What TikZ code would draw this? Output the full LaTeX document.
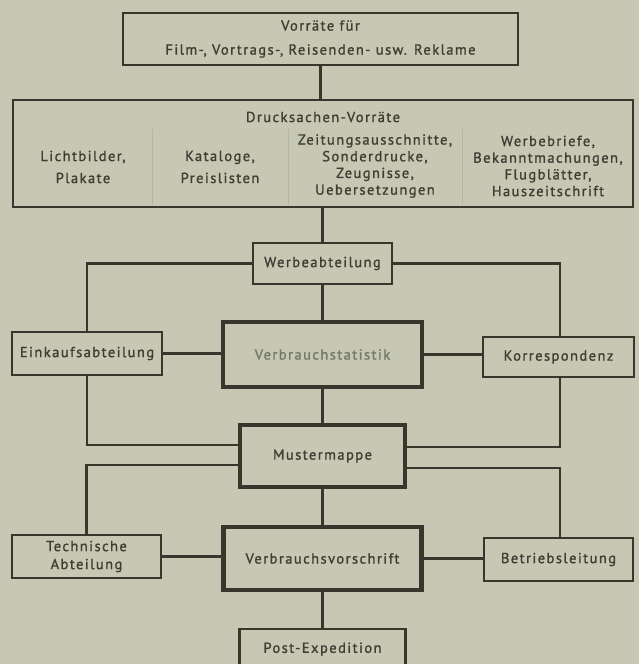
\documentclass[tikz,border=0pt]{standalone}
\usepackage{fontspec}
\setmainfont{PT Sans}[LetterSpace=10, FakeBold=1.3]
\definecolor{bg}{RGB}{198,200,180}
\definecolor{ink}{RGB}{55,55,45}
\definecolor{txt}{RGB}{62,62,52}
\definecolor{faint}{RGB}{180,182,164}
\definecolor{pale}{RGB}{118,120,106}
\newcommand\dfont{\fontsize{14.5}{16.7}\selectfont}
\begin{document}
\begin{tikzpicture}[x=1pt,y=-1pt,
  box/.style={draw=ink, line width=2.2pt, rectangle, inner sep=0pt, text=txt, align=center, font=\dfont},
  heavybox/.style={box, line width=4.5pt},
  lbl/.style={text=txt, align=center, inner sep=0pt, font=\dfont},
  conn/.style={draw=ink, line width=2.2pt},
  sep/.style={draw=faint, line width=1pt}]
\clip (0,0) rectangle (639,664);
\fill[bg] (0,0) rectangle (639,664);
% boxes
\node[box, minimum width=395pt, minimum height=52pt, font=\fontsize{14.5}{24}\selectfont] (top) at (320.5,39) {Vorräte für\\Film-, Vortrags-, Reisenden- usw. Reklame};
\node[box, minimum width=620pt, minimum height=107pt] (druck) at (323,153.5) {};
\node[lbl] (drucktitle) at (323,117) {Drucksachen-Vorräte};
\node[lbl, font=\fontsize{14.5}{22}\selectfont] (c1) at (83,167) {Lichtbilder,\\Plakate};
\node[lbl, font=\fontsize{14.5}{22}\selectfont] (c2) at (220,167) {Kataloge,\\Preislisten};
\node[lbl] (c3) at (375,166) {Zeitungsausschnitte,\\Sonderdrucke,\\Zeugnisse,\\Uebersetzungen};
\node[lbl] (c4) at (548,166) {Werbebriefe,\\Bekanntmachungen,\\Flugblätter,\\Hauszeitschrift};
\draw[sep] (152,129) -- (152,205);
\draw[sep] (288,129) -- (288,205);
\draw[sep] (462,129) -- (462,205);

\node[box, minimum width=139pt, minimum height=41pt] (werbe) at (322.5,263.5) {Werbeabteilung};
\node[box, minimum width=150pt, minimum height=43pt] (einkauf) at (87,353.5) {Einkaufsabteilung};
\node[heavybox, minimum width=199pt, minimum height=65pt, text=pale] (vs) at (322.5,354.5) {Verbrauchstatistik};
\node[box, minimum width=151pt, minimum height=40pt] (korr) at (558.5,357) {Korrespondenz};
\node[heavybox, minimum width=165pt, minimum height=62pt] (muster) at (322.5,456) {Mustermappe};
\node[heavybox, minimum width=198pt, minimum height=63pt] (vv) at (322.5,558.5) {Verbrauchsvorschrift};
\node[box, minimum width=149pt, minimum height=43pt, font=\fontsize{14.5}{18}\selectfont] (tech) at (86.5,556.5) {Technische\\Abteilung};
\node[box, minimum width=149pt, minimum height=43pt] (betrieb) at (558.5,559.5) {Betriebsleitung};
\node[box, minimum width=166pt, minimum height=40pt, anchor=north] (post) at (322.5,628) {Post-Expedition};

% connectors
\draw[conn] (top.south) -- (druck.north -| top.south);
\draw[conn] (druck.south -| werbe.north) -- (werbe.north);
\draw[conn] (werbe.west) -| (einkauf.north);
\draw[conn] (werbe.east) -| ([xshift=1.5pt]korr.north);
\draw[conn] (werbe.south) -- (vs.north);
\draw[conn] (einkauf.east) -- (einkauf.east -| vs.west);
\draw[conn] (vs.east) -- (vs.east -| korr.west);
\draw[conn] (vs.south) -- (muster.north);
\draw[conn] (einkauf.south) |- ([yshift=11pt]muster.west);
\draw[conn] ([yshift=-9pt]muster.west) -| (tech.north);
\draw[conn] ([xshift=1.5pt]korr.south) |- ([yshift=9pt]muster.east);
\draw[conn] ([yshift=-12pt]muster.east) -| ([xshift=1.5pt]betrieb.north);
\draw[conn] (muster.south) -- (vv.north);
\draw[conn] (tech.east) -- (tech.east -| vv.west);
\draw[conn] (vv.east) -- (vv.east -| betrieb.west);
\draw[conn] (vv.south) -- (post.north);
\end{tikzpicture}
\end{document}
